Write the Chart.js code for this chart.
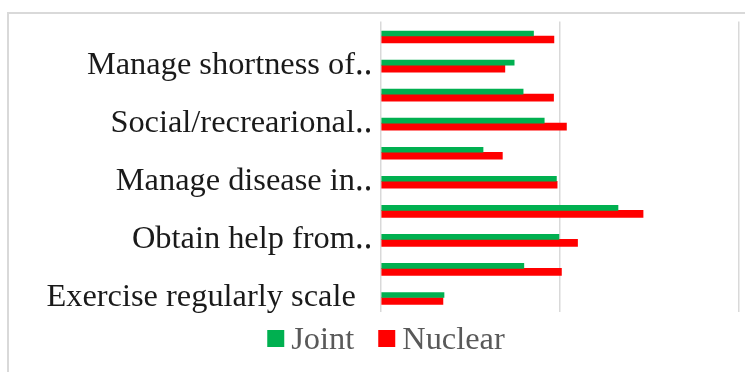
<!DOCTYPE html>
<html>
<head>
<meta charset="utf-8">
<script src="https://cdn.jsdelivr.net/npm/chart.js@4.4.1/dist/chart.umd.min.js"></script>
<style>
  html, body { margin: 0; padding: 0; background: #ffffff; }
  #wrap { position: relative; width: 745px; height: 372px; overflow: hidden; }
  #frame { position: absolute; left: 7px; top: 12px; width: 800px; height: 420px; border: 2px solid #d9d9d9; box-sizing: border-box; }
  canvas { position: absolute; left: 0; top: 0; }
</style>
</head>
<body>
<div id="wrap">
  <div id="frame"></div>
  <canvas id="c" width="745" height="372"></canvas>
</div>
<script>
// Categories listed top to bottom as they appear in the chart (unlabelled rows are blank)
const categories = [
  "",
  "Manage shortness of\u2025",
  "",
  "Social/recrearional\u2025",
  "",
  "Manage disease in\u2025",
  "",
  "Obtain help from\u2025",
  "",
  "Exercise regularly scale  "
];
const jointValues   = [42.6, 37.2, 39.7, 45.6, 28.5, 49.0, 66.2, 49.7, 39.9, 17.6];
const nuclearValues = [48.3, 34.6, 48.2, 51.8, 33.9, 49.2, 73.2, 54.9, 50.4, 17.3];
const seriesNames = ["Joint", "Nuclear"];
const xMin = 0, xMax = 100, xStep = 50;

const GREEN = "#00B050";
const RED = "#FF0000";
const FONT = "'Liberation Serif', 'Times New Roman', serif";
const FONT_SIZE = 32.4;

const customLegend = {
  id: 'customLegend',
  afterDraw(chart) {
    const ctx = chart.ctx;
    ctx.save();
    ctx.font = FONT_SIZE + "px " + FONT;
    const box = 17, gapText = 7, gapItem = 24;
    const items = chart.data.datasets.map(d => ({ label: d.label, color: d.backgroundColor }));
    let total = 0;
    items.forEach((it, i) => {
      it.w = ctx.measureText(it.label).width;
      total += box + gapText + it.w + (i < items.length - 1 ? gapItem : 0);
    });
    let x = 386 - total / 2;
    const boxTop = 330, baseline = 349;
    items.forEach(it => {
      ctx.fillStyle = it.color;
      ctx.fillRect(x, boxTop, box, box);
      x += box + gapText;
      ctx.fillStyle = "#595959";
      ctx.textBaseline = "alphabetic";
      ctx.textAlign = "left";
      ctx.fillText(it.label, x, baseline);
      x += it.w + gapItem;
    });
    ctx.restore();
  }
};

new Chart(document.getElementById('c'), {
  type: 'bar',
  data: {
    labels: categories,
    datasets: [
      { label: seriesNames[0], data: jointValues, backgroundColor: GREEN, barThickness: 5, borderWidth: 0 },
      { label: seriesNames[1], data: nuclearValues, backgroundColor: RED, barThickness: 7, borderWidth: 0 }
    ]
  },
  options: {
    indexAxis: 'y',
    responsive: false,
    animation: false,
    devicePixelRatio: 1,
    layout: { padding: { left: 0, right: 6, top: 21.5, bottom: 60 } },
    plugins: {
      legend: { display: false },
      tooltip: { enabled: false },
      title: { display: false }
    },
    scales: {
      x: {
        min: xMin, max: xMax,
        ticks: { display: false, stepSize: xStep },
        grid: { color: "#d9d9d9", lineWidth: 1.5, drawTicks: false },
        border: { display: false }
      },
      y: {
        afterFit(scale) {
          scale.width = 381;
          scale.paddingTop = 0;
          scale.paddingBottom = 0;
        },
        ticks: {
          autoSkip: false,
          padding: 9,
          color: "#1a1a1a",
          font: { family: FONT, size: FONT_SIZE }
        },
        grid: { display: false, drawTicks: false },
        border: { display: false }
      }
    }
  },
  plugins: [customLegend]
});
</script>
</body>
</html>
